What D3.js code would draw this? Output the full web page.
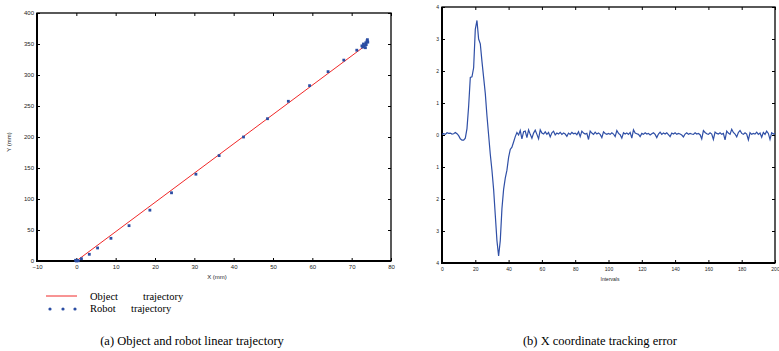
<!DOCTYPE html>
<html>
<head>
<meta charset="utf-8">
<script src="https://cdn.jsdelivr.net/npm/d3@7"></script>
<style>
  body { margin: 0; background: #fff; }
  svg { display: block; }
  .tick text { font-family: "Liberation Sans", Arial, sans-serif; fill: #222; }
</style>
</head>
<body>
<script>
// (a) object line end points and robot samples, in mm
const objectX = [0, 73.2];
const objectY = [0, 346];
const robotX = [0, 0.3, -0.2, 0.5, 1.3, 3.3, 5.4, 8.8, 13.4, 18.7, 24.2, 30.4, 36.3, 42.5, 48.6, 53.9, 59.3, 64, 68, 71.3,
  72.6, 72.8, 73.2, 73.5, 73.0, 73.7, 73.6, 74.1, 73.9, 74];
const robotY = [0, 0.8, 1.2, 0.3, 3.7, 10.8, 21, 36.6, 57, 82, 110, 140, 170, 200, 229.5, 257.6, 282.8, 305.4, 324, 340,
  347, 345, 347, 344, 350, 349, 352, 353, 355, 357];
const xTicksA = [-10, 0, 10, 20, 30, 40, 50, 60, 70, 80];
const yTicksA = [0, 50, 100, 150, 200, 250, 300, 350, 400];

// (b) X coordinate tracking error per interval
const errorValues = [
  0.02, 0.04, 0.02, 0.07, 0.05, 0.06, 0.03, 0.04, 0.08, 0.04,
  -0.02, -0.12, -0.16, -0.16, -0.10, 0.2, 0.9, 1.8, 1.82, 2.1,
  3.3, 3.58, 3.0, 2.85, 2.3, 1.8, 1.3, 0.6, 0.0, -0.6,
  -1.1, -1.7, -2.5, -3.3, -3.78, -3.3, -2.3, -1.7, -1.35, -1.1,
  -0.7, -0.45, -0.38, -0.22, -0.05, 0.08, 0.0, 0.14, -0.12, 0.1,
  0.12, -0.08, 0.16, 0.02, -0.1, 0.06, 0.15, 0.02, -0.12, 0.16,
  0.06, 0.03, 0.1, 0.02, 0.08, -0.06, 0.07, 0.12, 0.0, 0.06,
  0.03, 0.08, 0.02, 0.06, 0.03, -0.04, 0.06, 0.02, 0.08, 0.04,
  0.06, 0.01, 0.1, -0.05, 0.12, 0.06, 0.03, 0.05, -0.14, 0.12,
  0.06, 0.02, 0.09, 0.03, 0.06, 0.02, -0.08, 0.1, 0.05, 0.02,
  0.05, 0.02, 0.07, 0.03, -0.05, 0.14, 0.05, 0.01, -0.1, 0.07,
  0.03, 0.06, 0.02, 0.08, -0.1, 0.16, 0.06, 0.04, 0.02, -0.05,
  0.05, 0.02, 0.07, 0.03, 0.05, 0.0, 0.04, 0.07, 0.02, -0.08,
  0.03, 0.09, 0.02, 0.06, 0.03, 0.07, 0.01, -0.05, 0.06, 0.03,
  0.07, 0.02, 0.05, 0.03, 0.0, -0.06, 0.03, 0.07, 0.02, 0.05,
  0.03, 0.02, 0.07, 0.03, 0.05, 0.01, -0.12, 0.14, 0.08, 0.04,
  0.02, 0.07, 0.03, -0.14, 0.09, 0.05, 0.03, 0.07, 0.02, 0.05,
  -0.15, 0.12, 0.06, 0.02, 0.18, 0.08, 0.03, -0.06, 0.08, 0.14,
  0.05, 0.02, 0.07, 0.03, -0.15, 0.07, 0.02, 0.05, 0.03, 0.09,
  0.02, 0.06, -0.07, 0.08, 0.02, 0.12, 0.05, -0.14, 0.07, 0.03,
  0.05
];
const xTicksB = [0, 20, 40, 60, 80, 100, 120, 140, 160, 180, 200];
const yTicksB = [-4, -3, -2, -1, 0, 1, 2, 3, 4];

const svg = d3.select('body').append('svg')
  .attr('width', 779)
  .attr('height', 351);

// draw a framed plot with inward ticks on all four sides
function drawFrame(g, x, y, xTicks, yTicks, xFmt, yFmt, fontSize) {
  const [x0, x1] = x.range();
  const [y0, y1] = y.range();

  g.append('g')
    .attr('transform', `translate(0,${y0})`)
    .call(d3.axisBottom(x).tickValues(xTicks).tickFormat(xFmt).tickSize(-3).tickSizeOuter(0).tickPadding(4))
    .call(a => a.select('.domain').remove())
    .call(a => a.selectAll('text').attr('font-size', fontSize));
  g.append('g')
    .attr('transform', `translate(${x0},0)`)
    .call(d3.axisLeft(y).tickValues(yTicks).tickFormat(yFmt).tickSize(-3).tickSizeOuter(0).tickPadding(3))
    .call(a => a.select('.domain').remove())
    .call(a => a.selectAll('text').attr('font-size', fontSize));
  g.append('g')
    .attr('transform', `translate(0,${y1})`)
    .call(d3.axisTop(x).tickValues(xTicks).tickFormat('').tickSize(-3).tickSizeOuter(0))
    .call(a => a.select('.domain').remove());
  g.append('g')
    .attr('transform', `translate(${x1},0)`)
    .call(d3.axisRight(y).tickValues(yTicks).tickFormat('').tickSize(-3).tickSizeOuter(0))
    .call(a => a.select('.domain').remove());

  g.selectAll('.tick line').attr('stroke', '#000').attr('stroke-width', 1);

  g.append('rect')
    .attr('x', x0).attr('y', y1)
    .attr('width', x1 - x0).attr('height', y0 - y1)
    .attr('fill', 'none').attr('stroke', '#000').attr('stroke-width', 1.3);
  g.append('path')
    .attr('d', `M${x0},${y1}V${y0}H${x1}`)
    .attr('fill', 'none').attr('stroke', '#000').attr('stroke-width', 2);
}

// ---- (a) trajectory chart
const gA = svg.append('g');
const xA = d3.scaleLinear().domain([-10, 80]).range([37, 391]);
const yA = d3.scaleLinear().domain([0, 400]).range([261, 13]);

drawFrame(gA, xA, yA, xTicksA, yTicksA, d3.format('d'), d3.format('d'), 6);

gA.append('path')
  .datum(d3.zip(objectX, objectY))
  .attr('d', d3.line().x(d => xA(d[0])).y(d => yA(d[1])))
  .attr('fill', 'none')
  .attr('stroke', '#f02828')
  .attr('stroke-width', 1);

gA.selectAll('.robot')
  .data(d3.zip(robotX, robotY))
  .enter()
  .append('rect')
  .attr('class', 'robot')
  .attr('x', d => xA(d[0]) - 1.4)
  .attr('y', d => yA(d[1]) - 1.4)
  .attr('width', 2.8)
  .attr('height', 2.8)
  .attr('fill', '#2b4da3');

gA.append('text')
  .attr('x', 217).attr('y', 279)
  .attr('text-anchor', 'middle')
  .attr('font-family', 'Liberation Sans, Arial, sans-serif')
  .attr('font-size', 6)
  .attr('fill', '#222')
  .text('X (mm)');

gA.append('text')
  .attr('transform', 'translate(11,142) rotate(-90)')
  .attr('text-anchor', 'middle')
  .attr('font-family', 'Liberation Sans, Arial, sans-serif')
  .attr('font-size', 6)
  .attr('fill', '#222')
  .text('Y (mm)');

// legend
const legend = svg.append('g')
  .attr('font-family', 'Liberation Serif, Times New Roman, serif')
  .attr('font-size', 10.5)
  .attr('fill', '#000');
legend.append('line')
  .attr('x1', 46).attr('x2', 77).attr('y1', 296).attr('y2', 296)
  .attr('stroke', '#f02828').attr('stroke-width', 1);
legend.append('text').attr('x', 90).attr('y', 300).text('Object');
legend.append('text').attr('x', 143).attr('y', 300).text('trajectory');
legend.selectAll('.ldot')
  .data([50, 63, 75])
  .enter()
  .append('circle')
  .attr('cx', d => d).attr('cy', 309).attr('r', 1.6)
  .attr('fill', '#2b4da3');
legend.append('text').attr('x', 90).attr('y', 312).text('Robot');
legend.append('text').attr('x', 131).attr('y', 312).text('trajectory');

// ---- (b) tracking error chart
const gB = svg.append('g');
const xB = d3.scaleLinear().domain([0, 200]).range([442, 775]);
const yB = d3.scaleLinear().domain([-4, 4]).range([263, 7]);

drawFrame(gB, xB, yB, xTicksB, yTicksB, d3.format('d'), d => String(Math.abs(d)), 5);

gB.append('path')
  .datum(errorValues)
  .attr('d', d3.line().x((d, i) => xB(i)).y(d => yB(d)))
  .attr('fill', 'none')
  .attr('stroke', '#2f4fa6')
  .attr('stroke-width', 1.2);

gB.append('text')
  .attr('x', 610).attr('y', 281)
  .attr('text-anchor', 'middle')
  .attr('font-family', 'Liberation Sans, Arial, sans-serif')
  .attr('font-size', 5)
  .attr('fill', '#222')
  .text('Intervals');

// captions
svg.append('text')
  .attr('x', 192).attr('y', 345)
  .attr('text-anchor', 'middle')
  .attr('font-family', 'Liberation Serif, Times New Roman, serif')
  .attr('font-size', 12.5)
  .text('(a) Object and robot linear trajectory');

svg.append('text')
  .attr('x', 600).attr('y', 345)
  .attr('text-anchor', 'middle')
  .attr('font-family', 'Liberation Serif, Times New Roman, serif')
  .attr('font-size', 12.5)
  .text('(b) X coordinate tracking error');
</script>
</body>
</html>
